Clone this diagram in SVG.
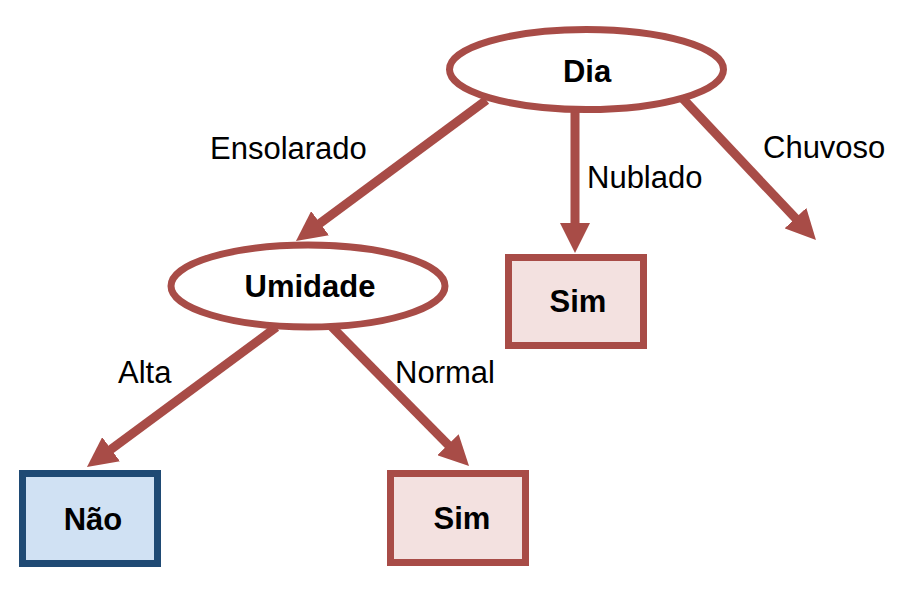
<svg xmlns="http://www.w3.org/2000/svg" width="922" height="589" viewBox="0 0 922 589">
<style>
.edge{stroke:#A84C47;stroke-width:9;fill:none;marker-end:url(#ah)}
.oval{fill:#FFFFFF;stroke:#A84C47;stroke-width:7}
.leaf{fill:#F3E1E0;stroke:#A84C47;stroke-width:7}
.leafno{fill:#D0E1F3;stroke:#1F4A74;stroke-width:7}
.nt{font-family:"Liberation Sans",Arial,sans-serif;font-size:31px;font-weight:bold;fill:#000;text-anchor:middle}
.lb{font-family:"Liberation Sans",Arial,sans-serif;font-size:31px;fill:#000}
</style>
<defs>
<marker id="ah" markerUnits="userSpaceOnUse" markerWidth="30" markerHeight="30" viewBox="0 0 30 30" refX="20" refY="15" orient="auto">
<path d="M0,0 L30,15 L0,30 Z" fill="#A84C47"/>
</marker>
</defs>
<rect width="922" height="589" fill="#FFFFFF"/>
<g id="connectors">
<line class="edge" x1="486.4" y1="100.2" x2="304.0" y2="235.1"/>
<line class="edge" x1="575" y1="105" x2="575" y2="243"/>
<line class="edge" x1="680.5" y1="96.2" x2="809.1" y2="232.7"/>
<line class="edge" x1="276.4" y1="327.2" x2="95.0" y2="461.1"/>
<line class="edge" x1="327.4" y1="322.3" x2="462.0" y2="458.9"/>
<text class="lb" x="210" y="159">Ensolarado</text>
<text class="lb" x="587" y="188">Nublado</text>
<text class="lb" x="763" y="158">Chuvoso</text>
<text class="lb" x="118" y="383">Alta</text>
<text class="lb" x="395" y="383">Normal</text>
</g>
<g id="node-dia">
<ellipse class="oval" cx="586.5" cy="69.5" rx="137" ry="40"/>
<text class="nt" x="587" y="82">Dia</text>
</g>
<g id="node-umidade">
<ellipse class="oval" cx="308" cy="286" rx="137" ry="41"/>
<text class="nt" x="310" y="297">Umidade</text>
</g>
<g id="node-sim-nublado">
<rect class="leaf" x="508.5" y="257.5" width="135" height="88"/>
<text class="nt" x="578" y="312">Sim</text>
</g>
<g id="node-nao">
<rect class="leafno" x="22.5" y="473.5" width="135" height="90"/>
<text class="nt" x="93" y="530">Não</text>
</g>
<g id="node-sim-normal">
<rect class="leaf" x="390.5" y="473.5" width="135" height="89"/>
<text class="nt" x="462" y="529">Sim</text>
</g>
</svg>
